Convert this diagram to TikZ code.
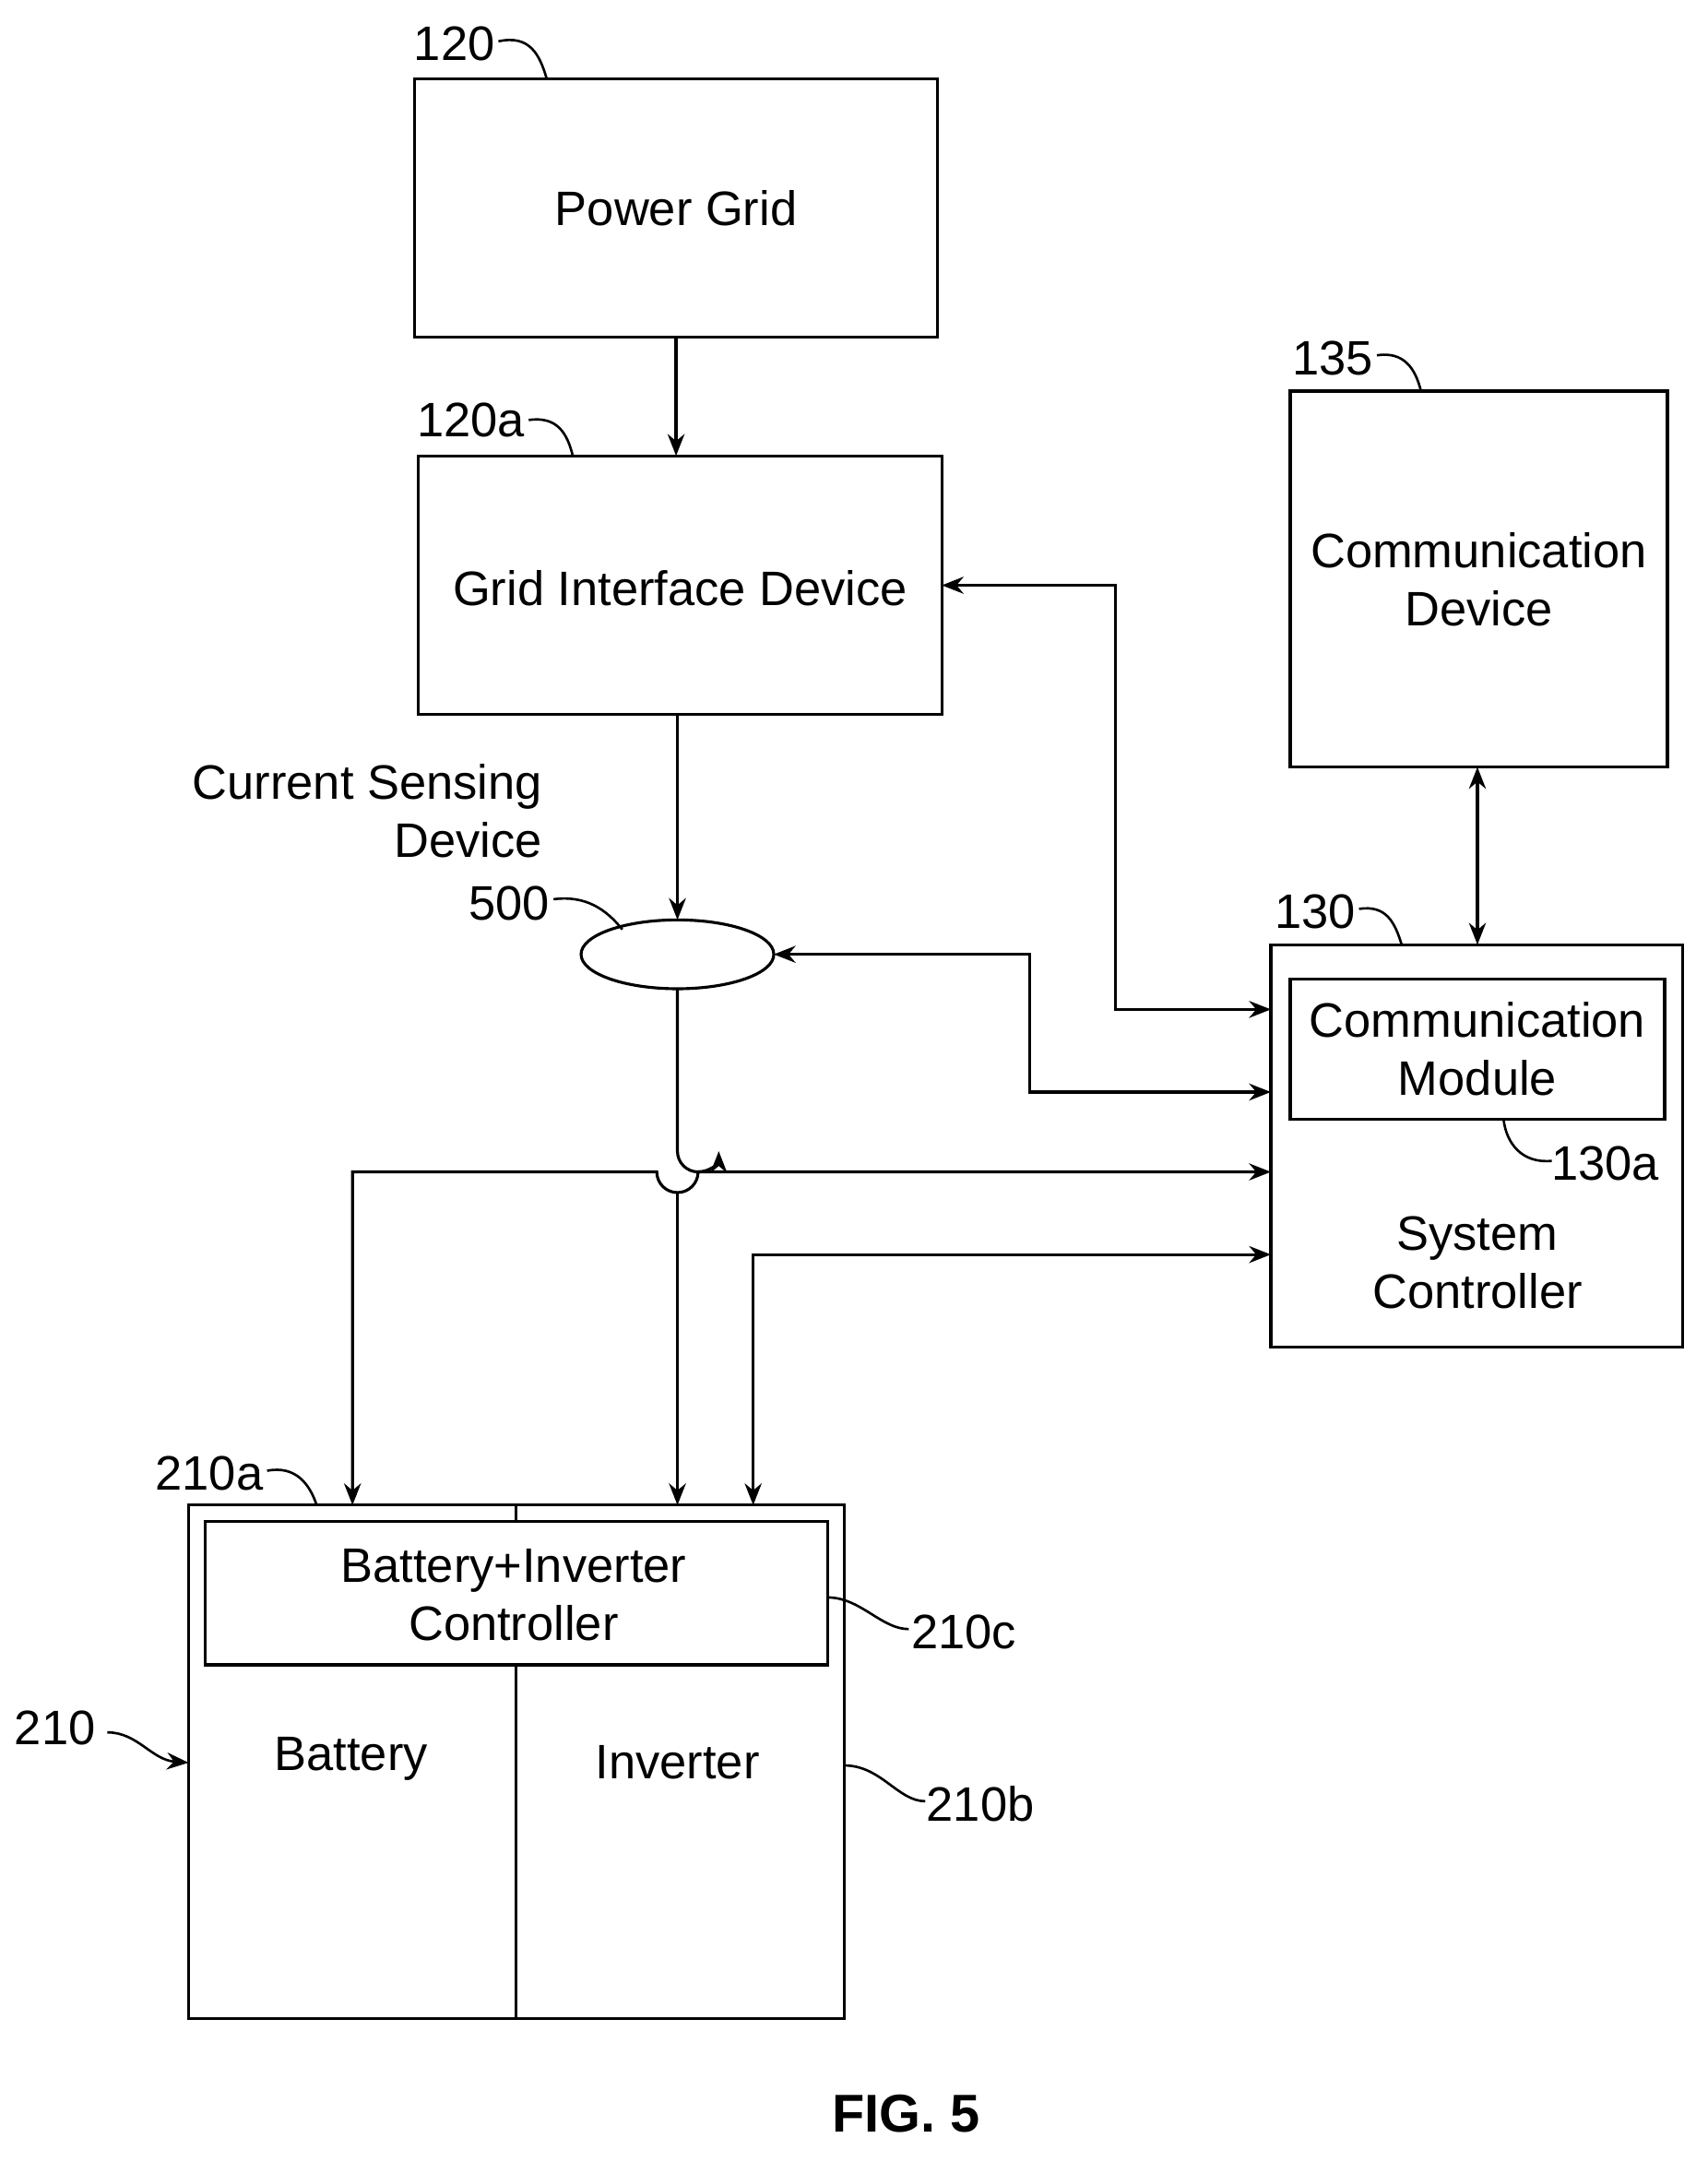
\documentclass[tikz,border=0pt]{standalone}
\usepackage{fontspec}
\setmainfont{Liberation Sans}
\usetikzlibrary{arrows.meta}
\begin{document}
\begin{tikzpicture}[x=0.02cm,y=-0.02cm,
  box/.style={draw,line width=1.2pt},
  ln/.style={line width=1.2pt},
  arr/.style={ln,-{Stealth[length=9pt,width=7pt]}},
  darr/.style={ln,{Stealth[length=9pt,width=7pt]}-{Stealth[length=9pt,width=7pt]}},
  lead/.style={line width=1pt},
  txt/.style={font=\fontsize{20}{24}\selectfont,align=center},
  ref/.style={font=\fontsize{20}{24}\selectfont,inner sep=1pt}]
\useasboundingbox (0,0) rectangle (1240,1570);
% boxes
\draw[box] (301,57) rectangle (681,245);
\node[txt] (pg) at (491,151) {Power Grid};
\draw[box] (304,331) rectangle (684,519);
\node[txt] (gid) at (494,427) {Grid Interface Device};
\draw[box] (937,284) rectangle (1211,557);
\node[txt] (cd) at (1074,421) {Communication\\Device};
\draw[box] (923,686) rectangle (1222,978);
\draw[box] (937,711) rectangle (1209,813);
\node[txt] (cm) at (1073,762) {Communication\\Module};
\node[txt] (sc) at (1073,917) {System\\Controller};
\draw[box] (492,693) ellipse (70 and 25);
\node[txt,align=right,anchor=east] (csd) at (400,589) {Current Sensing\\Device};
\draw[box] (137,1093) rectangle (613,1466);
\draw[box] (149,1105) rectangle (601,1209);
\draw[ln] (375,1093) -- (375,1105) (375,1209) -- (375,1466);
\node[txt] (bic) at (373,1158) {Battery+Inverter\\Controller};
\node[txt] (bat) at (255,1277) {Battery};
\node[txt] (inv) at (492,1280) {Inverter};
\node[font=\bfseries\fontsize{22}{26}\selectfont] (fig) at (658,1535) {FIG. 5};
% reference labels
\node[ref] (r120) at (330,32) {120};
\draw[lead] (362,30) .. controls (385,25) and (392,40) .. (397,57);
\node[ref] (r120a) at (342,305) {120a};
\draw[lead] (384,305) .. controls (405,302) and (412,315) .. (416,331);
\node[ref] (r135) at (968,260) {135};
\draw[lead] (1000,258) .. controls (1020,255) and (1028,268) .. (1032,284);
\node[ref] (r130) at (955,662) {130};
\draw[lead] (987,660) .. controls (1007,657) and (1013,670) .. (1018,686);
\node[ref] (r130a) at (1166,845) {130a};
\draw[lead] (1127,843) .. controls (1105,845) and (1094,830) .. (1092,813);
\node[ref] (r500) at (370,656) {500};
\draw[lead] (402,653) .. controls (425,650) and (440,660) .. (452,675);
\node[ref] (r210a) at (152,1070) {210a};
\draw[lead] (194,1068) .. controls (215,1064) and (225,1078) .. (230,1093);
\node[ref] (r210c) at (700,1185) {210c};
\draw[lead] (660,1183) .. controls (640,1183) and (625,1160) .. (601,1160);
\node[ref] (r210b) at (712,1310) {210b};
\draw[lead] (672,1308) .. controls (652,1308) and (640,1282) .. (613,1282);
\node[ref] (r210) at (40,1255) {210};
\draw[lead,-{Stealth[length=9pt,width=7pt]}] (78,1258) .. controls (100,1258) and (110,1278) .. (137,1280);
% connectors
\draw[arr] (491,245) -- (491,331);
\draw[arr] (492,519) -- (492,668);
\draw[arr] (492,718) -- (492,836) arc (180:0:15) ;
\draw[arr] (492,851) ++(0,0) (492,718) -- (492,836) (492,866) -- (492,1093);
\draw[darr] (1073,557) -- (1073,686);
\draw[darr] (684,425) -- (810,425) -- (810,733) -- (923,733);
\draw[darr] (562,693) -- (748,693) -- (748,793) -- (923,793);
\draw[darr] (256,1093) -- (256,851) -- (477,851) arc (180:0:15) -- (923,851);
\draw[darr] (547,1093) -- (547,911) -- (923,911);
\end{tikzpicture}
\end{document}
